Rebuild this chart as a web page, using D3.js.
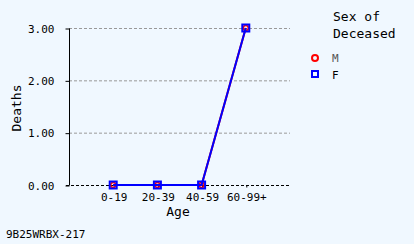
<!DOCTYPE html>
<html><head><meta charset="utf-8">
<script src="https://d3js.org/d3.v7.min.js"></script>
<style>body{margin:0;background:#f0f8ff;}svg{display:block;font-family:"DejaVu Sans Mono",monospace;}</style>
</head><body>
<svg id="c" width="414" height="244"></svg>
<script>
const categories = ["0-19","20-39","40-59","60-99+"];
const seriesNames = ["M","F"];
const valuesM = [0,0,0,3];
const valuesF = [0,0,0,3];
const yTicks = [0,1,2,3];

const svg = d3.select("#c");
svg.append("rect").attr("width",414).attr("height",244).attr("fill","#f0f8ff");
const m = {l:69, r:290, t:28, b:185};
const x = d3.scalePoint().domain(categories).range([m.l, m.r]).padding(1);
const y = d3.scaleLinear().domain([0,3]).range([m.b, m.t]);

// grid
svg.append("g").selectAll("line").data(yTicks.filter(d=>d>0)).join("line")
  .attr("x1",m.l).attr("x2",m.r).attr("y1",d=>y(d)+0.5).attr("y2",d=>y(d)+0.5)
  .attr("stroke","#999").attr("stroke-dasharray","3,2");
svg.append("line").attr("x1",m.l-3).attr("x2",m.r).attr("y1",y(0)+0.5).attr("y2",y(0)+0.5)
  .attr("stroke","#000").attr("stroke-dasharray","3,2");

// y axis
const ya = svg.append("g").attr("transform",`translate(${m.l+0.5},0.5)`)
  .call(d3.axisLeft(y).tickValues(yTicks).tickFormat(d3.format(".2f")).tickSize(4).tickPadding(11));
ya.select(".domain").attr("stroke","#000").attr("d",`M0,${m.t}V${m.b}`);
ya.selectAll("text").attr("font-size",11).attr("font-family","DejaVu Sans Mono").attr("fill","#000");

// x axis
const xa = svg.append("g").attr("transform",`translate(0.5,${m.b+0.5})`)
  .call(d3.axisBottom(x).tickSize(2).tickPadding(6));
xa.select(".domain").remove();
xa.selectAll("text").attr("font-size",11).attr("font-family","DejaVu Sans Mono").attr("fill","#000");

// titles
svg.append("text").attr("x",178).attr("y",216).attr("text-anchor","middle").attr("font-size",13).text("Age");
svg.append("text").attr("transform","translate(21,108) rotate(-90)").attr("text-anchor","middle").attr("font-size",13).text("Deaths");
svg.append("text").attr("x",6).attr("y",238).attr("font-size",11).text("9B25WRBX-217");

const line = d3.line().x((d,i)=>x(categories[i])).y(d=>y(d));
// M
svg.append("path").datum(valuesM).attr("d",line).attr("fill","none").attr("stroke","red").attr("stroke-width",2);
svg.append("g").selectAll("circle").data(valuesM).join("circle")
  .attr("cx",(d,i)=>x(categories[i])).attr("cy",d=>y(d)).attr("r",2.5)
  .attr("fill","none").attr("stroke","red").attr("stroke-width",1.5);
// F
svg.append("path").datum(valuesF).attr("d",line).attr("fill","none").attr("stroke","blue").attr("stroke-width",2);
svg.append("g").selectAll("rect").data(valuesF).join("rect")
  .attr("x",(d,i)=>x(categories[i])-3.5).attr("y",d=>y(d)-3.5).attr("width",7).attr("height",7)
  .attr("fill","none").attr("stroke","blue").attr("stroke-width",2);

// legend
const lg = svg.append("g");
lg.append("text").attr("x",333).attr("y",21).attr("font-size",13).text("Sex of");
lg.append("text").attr("x",333).attr("y",38).attr("font-size",13).text("Deceased");
lg.append("circle").attr("cx",315).attr("cy",58).attr("r",3).attr("fill","none").attr("stroke","red").attr("stroke-width",2);
lg.append("text").attr("x",332).attr("y",62).attr("font-size",11).attr("fill","#555").text(seriesNames[0]);
lg.append("rect").attr("x",312).attr("y",71).attr("width",6).attr("height",6).attr("fill","none").attr("stroke","blue").attr("stroke-width",2);
lg.append("text").attr("x",332).attr("y",79).attr("font-size",11).text(seriesNames[1]);
</script>
</body></html>
